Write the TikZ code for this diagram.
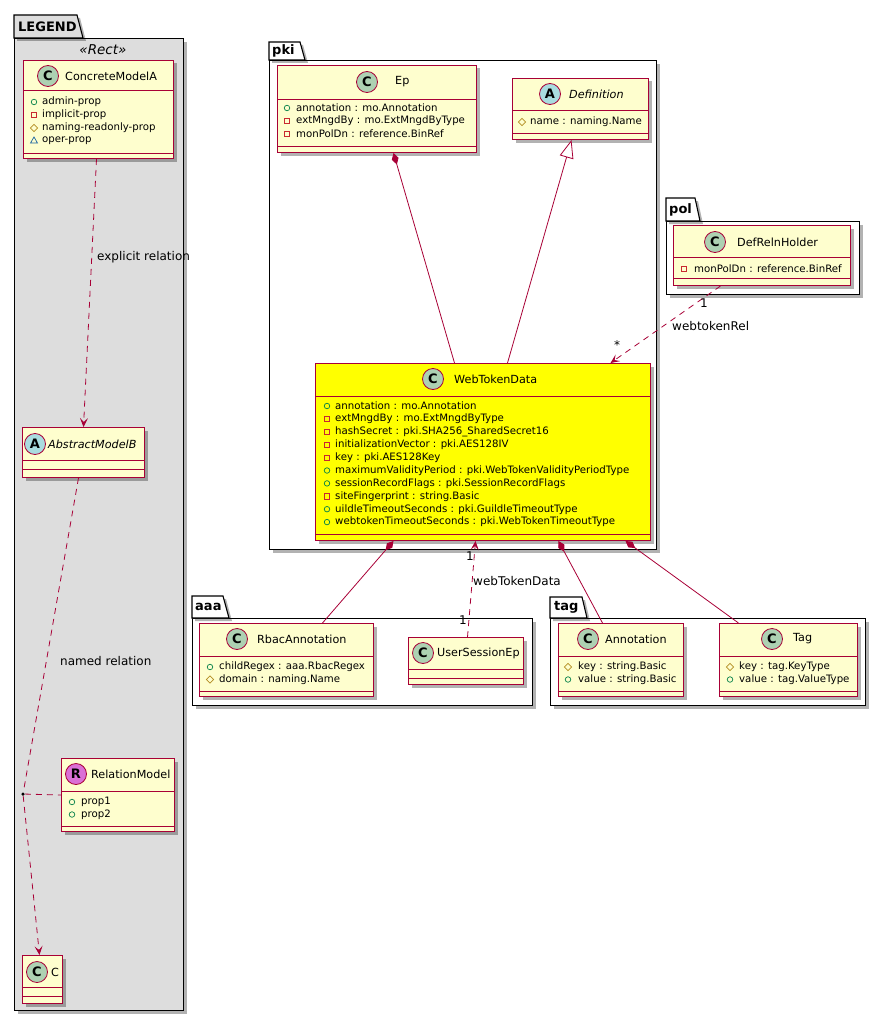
\documentclass[tikz,border=0pt]{standalone}
\usepackage{fontspec}
\setmainfont{DejaVu Sans}
\usetikzlibrary{arrows.meta, shapes.geometric, shadows, positioning}

\definecolor{umlborder}{HTML}{A80036}
\definecolor{umlfill}{HTML}{FEFECE}
\definecolor{umlyellow}{HTML}{FFFF00}
\definecolor{legendfill}{HTML}{DDDDDD}
\definecolor{iconC}{HTML}{ADD1B2}
\definecolor{iconA}{HTML}{A9DCDF}
\definecolor{iconR}{HTML}{DA70D6}
\definecolor{pubcol}{HTML}{038048}
\definecolor{privcol}{HTML}{C82930}
\definecolor{protcol}{HTML}{B38D22}
\definecolor{pkgcol}{HTML}{1963A0}

\tikzset{
  umlshadow/.style={drop shadow={shadow xshift=3pt, shadow yshift=-3pt, opacity=.3, fill=black}},
  pkgbody/.style={rectangle, draw=black, line width=1.1pt, fill=white, inner sep=0, anchor=north west, umlshadow},
  pkgtab/.style={draw=black, line width=1.1pt, fill=white, umlshadow},
  pkgname/.style={font=\bfseries\fontsize{13}{14}\selectfont, anchor=west, inner sep=0},
  classbox/.style={rectangle, draw=umlborder, line width=1pt, fill=umlfill, inner sep=0, anchor=north west, umlshadow},
  classrule/.style={draw=umlborder, line width=1pt},
  classicon/.style={circle, draw=umlborder, line width=.8pt, minimum size=21pt, inner sep=0, font=\bfseries\fontsize{13}{13}\selectfont},
  classname/.style={anchor=west, inner sep=0, font=\fontsize{11.2}{13}\selectfont},
  member/.style={anchor=west, inner sep=0, font=\fontsize{10.2}{12}\selectfont},
  pub/.style={circle, draw=pubcol, line width=.7pt, inner sep=0, minimum size=5.5pt},
  priv/.style={rectangle, draw=privcol, line width=.7pt, inner sep=0, minimum size=5.5pt},
  prot/.style={diamond, draw=protcol, line width=.7pt, inner sep=0, minimum size=7.5pt},
  pkg/.style={regular polygon, regular polygon sides=3, draw=pkgcol, line width=.7pt, inner sep=0, minimum size=8pt},
  relation/.style={draw=umlborder, line width=.8pt},
  depend/.style={relation, dash pattern=on 6pt off 5pt, -{Stealth[length=9pt,width=8pt,inset=4pt]}},
  compose/.style={relation, {Diamond[length=12pt,width=7pt]}-},
  inherit/.style={relation, -{Triangle[open,length=18pt,width=14pt,fill=white]}},
  rellabel/.style={font=\fontsize{12}{14}\selectfont, inner sep=0},
}

% class box: [options]{name}{left}{top}{width}{height}{header}{bottom rule}
\newcommand{\umlbox}[8][]{%
  \node[classbox, minimum width=#5, minimum height=#6, #1] (#2) at (#3,#4) {};
  \draw[classrule] ([yshift=-#7]#2.north west) -- ([yshift=-#7]#2.north east);
  \draw[classrule] ([yshift=#8]#2.south west) -- ([yshift=#8]#2.south east);
}

\begin{document}
\begin{tikzpicture}[x=1pt, y=-1pt]
  \useasboundingbox (0,0) rectangle (886,1022);

  % Packages
  \node[pkgbody, fill=legendfill, minimum width=169, minimum height=972] (pklgd) at (14,38) {};
  \draw[pkgtab, fill=legendfill] (pklgd.north west) -- ++(0,-23) -- ++(63,0) -- ++(6,23) -- cycle;
  \node[pkgname] (pklgd-l) at ([xshift=4pt,yshift=11.5pt]pklgd.north west) {LEGEND};
  \node[font=\itshape\fontsize{13.5}{14}\selectfont, inner sep=0] (pklgd-s) at (103,50) {«Rect»};

  \node[pkgbody, minimum width=387, minimum height=489] (pkpki) at (269,60) {};
  \draw[pkgtab] (pkpki.north west) -- ++(0,-18) -- ++(31,0) -- ++(5,18) -- cycle;
  \node[pkgname] (pkpki-l) at ([xshift=3pt,yshift=9pt]pkpki.north west) {pki};

  \node[pkgbody, minimum width=193, minimum height=73] (pkpol) at (666,221) {};
  \draw[pkgtab] (pkpol.north west) -- ++(0,-23) -- ++(29,0) -- ++(5,23) -- cycle;
  \node[pkgname] (pkpol-l) at ([xshift=3pt,yshift=11.5pt]pkpol.north west) {pol};

  \node[pkgbody, minimum width=340, minimum height=87] (pkaaa) at (192,618) {};
  \draw[pkgtab] (pkaaa.north west) -- ++(0,-22) -- ++(31,0) -- ++(6,22) -- cycle;
  \node[pkgname] (pkaaa-l) at ([xshift=3pt,yshift=11pt]pkaaa.north west) {aaa};

  \node[pkgbody, minimum width=315, minimum height=87] (pktag) at (550,618) {};
  \draw[pkgtab] (pktag.north west) -- ++(0,-21) -- ++(32,0) -- ++(5,21) -- cycle;
  \node[pkgname] (pktag-l) at ([xshift=4pt,yshift=10.5pt]pktag.north west) {tag};

  % LEGEND classes
  \umlbox{cma}{23}{60}{150}{98}{31}{6}
  \node[classicon, fill=iconC] (cma-i) at (48,76) {C};
  \node[classname] (cma-t) at (65,76) {ConcreteModelA};
  \foreach \k/\t [count=\i] in {pub/admin-prop, priv/implicit-prop, prot/naming-readonly-prop, pkg/oper-prop}
  {
    \node[\k] (cma-k\i) at (34,{102+13*(\i-1)}) {};
    \node[member] (cma-m\i) at (42,{102+13*(\i-1)}) {\t};
  }

  \umlbox{amb}{22}{427}{122}{50}{33}{9}
  \node[classicon, fill=iconA] (amb-i) at (35,444) {A};
  \node[classname, font=\itshape\fontsize{11.2}{13}\selectfont] (amb-t) at (48,444) {AbstractModelB};

  \umlbox{rm}{61}{758}{113}{73}{33}{6}
  \node[classicon, fill=iconR] (rm-i) at (76,774) {R};
  \node[classname] (rm-t) at (91,774) {RelationModel};
  \foreach \t [count=\i] in {prop1, prop2}
  {
    \node[pub] (rm-k\i) at (72,{802+12.5*(\i-1)}) {};
    \node[member] (rm-m\i) at (81,{802+12.5*(\i-1)}) {\t};
  }

  \umlbox{cc}{22}{955}{40}{48}{32}{8}
  \node[classicon, fill=iconC] (cc-i) at (37,972) {C};
  \node[classname] (cc-t) at (51,972) {C};

  % pki classes
  \umlbox{ep}{277}{65}{199}{87}{35}{7}
  \node[classicon, fill=iconC] (ep-i) at (367,82) {C};
  \node[classname] (ep-t) at (395,82) {Ep};
  \foreach \k/\t [count=\i] in {pub/annotation : mo.Annotation, priv/extMngdBy : mo.ExtMngdByType, priv/monPolDn : reference.BinRef}
  {
    \node[\k] (ep-k\i) at (287,{108+13*(\i-1)}) {};
    \node[member] (ep-m\i) at (296,{108+13*(\i-1)}) {\t};
  }

  \umlbox{def}{512}{78}{136}{61}{33}{6}
  \node[classicon, fill=iconA] (def-i) at (550,94) {A};
  \node[classname, font=\itshape\fontsize{11.2}{13}\selectfont] (def-t) at (569,94) {Definition};
  \node[prot] (def-k1) at (522,122) {};
  \node[member] (def-m1) at (530,122) {name : naming.Name};

  \umlbox[fill=umlyellow]{wtd}{315}{363}{335}{177}{33}{7}
  \node[classicon, fill=iconC] (wtd-i) at (433,379) {C};
  \node[classname] (wtd-t) at (454,379) {WebTokenData};
  \foreach \k/\t [count=\i] in {pub/annotation : mo.Annotation,
      priv/extMngdBy : mo.ExtMngdByType,
      priv/hashSecret : pki.SHA256\_SharedSecret16,
      priv/initializationVector : pki.AES128IV,
      priv/key : pki.AES128Key,
      pub/maximumValidityPeriod : pki.WebTokenValidityPeriodType,
      pub/sessionRecordFlags : pki.SessionRecordFlags,
      priv/siteFingerprint : string.Basic,
      pub/uildleTimeoutSeconds : pki.GuildleTimeoutType,
      pub/webtokenTimeoutSeconds : pki.WebTokenTimeoutType}
  {
    \node[\k] (wtd-k\i) at (327,{406+12.9*(\i-1)}) {};
    \node[member] (wtd-m\i) at (335,{406+12.9*(\i-1)}) {\t};
  }

  % pol classes
  \umlbox{drh}{673}{225}{177}{60}{32}{8}
  \node[classicon, fill=iconC] (drh-i) at (715,242) {C};
  \node[classname] (drh-t) at (737,242) {DefRelnHolder};
  \node[priv] (drh-k1) at (684,269) {};
  \node[member] (drh-m1) at (694,269) {monPolDn : reference.BinRef};

  % aaa classes
  \umlbox{rba}{199}{623}{174}{73}{33}{6}
  \node[classicon, fill=iconC] (rba-i) at (237,639) {C};
  \node[classname] (rba-t) at (257,639) {RbacAnnotation};
  \foreach \k/\t [count=\i] in {pub/childRegex : aaa.RbacRegex, prot/domain : naming.Name}
  {
    \node[\k] (rba-k\i) at (210,{667+12.5*(\i-1)}) {};
    \node[member] (rba-m\i) at (219,{667+12.5*(\i-1)}) {\t};
  }

  \umlbox{use}{408}{637}{115}{47}{32}{7}
  \node[classicon, fill=iconC] (use-i) at (423,653) {C};
  \node[classname] (use-t) at (437,653) {UserSessionEp};

  % tag classes
  \umlbox{ann}{558}{623}{125}{73}{33}{6}
  \node[classicon, fill=iconC] (ann-i) at (588,639) {C};
  \node[classname] (ann-t) at (605,639) {Annotation};
  \foreach \k/\t [count=\i] in {prot/key : string.Basic, pub/value : string.Basic}
  {
    \node[\k] (ann-k\i) at (568,{667+12.5*(\i-1)}) {};
    \node[member] (ann-m\i) at (578,{667+12.5*(\i-1)}) {\t};
  }

  \umlbox{tagc}{719}{623}{138}{73}{33}{6}
  \node[classicon, fill=iconC] (tagc-i) at (772,639) {C};
  \node[classname] (tagc-t) at (793,639) {Tag};
  \foreach \k/\t [count=\i] in {prot/key : tag.KeyType, pub/value : tag.ValueType}
  {
    \node[\k] (tagc-k\i) at (730,{667+12.5*(\i-1)}) {};
    \node[member] (tagc-m\i) at (739,{667+12.5*(\i-1)}) {\t};
  }

  % LEGEND relations
  \draw[depend] ([xshift=-2pt]cma.south) -- (amb.north);
  \node[rellabel, anchor=west] (lbl-expl) at (97,257) {explicit relation};
  \node[circle, fill=black, inner sep=0, minimum size=3.5pt] (nr-dot) at (23,794) {};
  \draw[relation, dash pattern=on 6pt off 5pt] ([xshift=-5pt]amb.south) -- (nr-dot);
  \draw[depend] (nr-dot) -- ([xshift=-3pt]cc.north);
  \draw[relation, dash pattern=on 6pt off 5pt] (nr-dot) -- (rm.west);
  \node[rellabel, anchor=west] (lbl-named) at (60,661) {named relation};

  % pki relations
  \draw[compose] ([xshift=16.5pt]ep.south) -- ([xshift=-28.5pt]wtd.north);
  \draw[inherit] ([xshift=24.5pt]wtd.north) -- ([xshift=-9pt]def.south);
  \draw[depend] ([xshift=-41.5pt]drh.south) -- ([xshift=127.5pt]wtd.north);
  \node[rellabel] (lbl-r1) at (704,303) {1};
  \node[rellabel, anchor=west] (lbl-rel) at (672,326) {webtokenRel};
  \node[rellabel] (lbl-rs) at (617,345) {*};

  % lower relations
  \draw[compose] ([xshift=-89.5pt]wtd.south) -- ([xshift=36pt]rba.north);
  \draw[depend] ([xshift=1.5pt]use.north) -- ([xshift=-7.5pt]wtd.south);
  \node[rellabel] (lbl-d1) at (470,556) {1};
  \node[rellabel] (lbl-d2) at (463,620) {1};
  \node[rellabel, anchor=west] (lbl-data) at (473,581) {webTokenData};
  \draw[compose] ([xshift=75.5pt]wtd.south) -- ([xshift=-18.5pt]ann.north);
  \draw[compose] ([xshift=142.5pt]wtd.south) -- ([xshift=-50pt]tagc.north);
\end{tikzpicture}
\end{document}
